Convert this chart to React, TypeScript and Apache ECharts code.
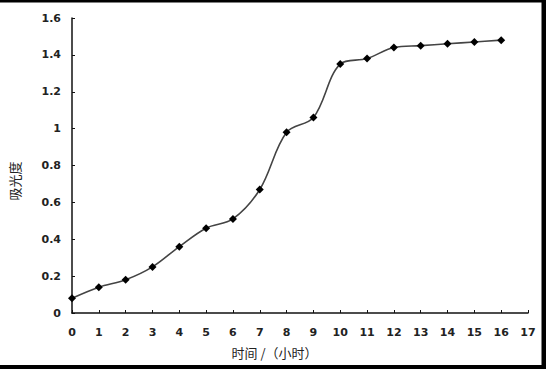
import React, { useEffect, useRef } from "react";
import * as echarts from "echarts";

const hours = [0, 1, 2, 3, 4, 5, 6, 7, 8, 9, 10, 11, 12, 13, 14, 15, 16];
const absorbance = [0.08, 0.14, 0.18, 0.25, 0.36, 0.46, 0.51, 0.67, 0.98, 1.06, 1.35, 1.38, 1.44, 1.45, 1.46, 1.47, 1.48];
const xAxisName = "时间 /（小时）";
const yAxisName = "吸光度";

export default function App() {
  const ref = useRef<HTMLDivElement>(null);
  useEffect(() => {
    document.body.style.margin = "0";
    const chart = echarts.init(ref.current!, null, { renderer: "svg" });
    const labelStyle = {
      color: "#222",
      fontSize: 11,
      fontWeight: "bold" as const,
      fontFamily: "DejaVu Sans, sans-serif",
    };
    chart.setOption({
      animation: false,
      backgroundColor: "#fff",
      grid: { left: 68, top: 18, width: 460, height: 295, containLabel: false },
      xAxis: {
        type: "value",
        min: 0,
        max: 17,
        interval: 1,
        name: xAxisName,
        nameLocation: "middle",
        nameGap: 33,
        nameTextStyle: {
          color: "#222",
          fontSize: 13,
          fontFamily: "Noto Sans CJK SC, sans-serif",
          padding: [0, 51, 0, 0],
        },
        axisLine: { show: true, lineStyle: { color: "#111", width: 1.5 } },
        axisTick: { show: true, inside: true, length: 3, lineStyle: { color: "#111" } },
        axisLabel: { ...labelStyle, margin: 14 },
        splitLine: { show: false },
      },
      yAxis: {
        type: "value",
        min: 0,
        max: 1.6,
        interval: 0.2,
        name: yAxisName,
        nameLocation: "middle",
        nameGap: 51,
        nameRotate: 90,
        nameTextStyle: {
          color: "#222",
          fontSize: 13,
          fontFamily: "Noto Sans CJK SC, sans-serif",
          padding: [0, 31, 0, 0],
        },
        axisLine: { show: true, lineStyle: { color: "#111", width: 1.5 } },
        axisTick: { show: true, inside: true, length: 3, lineStyle: { color: "#111" } },
        axisLabel: { ...labelStyle, margin: 11 },
        splitLine: { show: false },
      },
      series: [
        {
          type: "line",
          data: hours.map((h, i) => [h, absorbance[i]]),
          smooth: 0.35,
          symbol: "diamond",
          symbolSize: 8,
          itemStyle: { color: "#000" },
          lineStyle: { color: "#444", width: 1.6 },
        },
      ],
      graphic: [
        { type: "rect", left: 0, top: 0, shape: { width: 546, height: 2.5 }, style: { fill: "#000" } },
        { type: "rect", left: 541.5, top: 0, shape: { width: 4.5, height: 369 }, style: { fill: "#000" } },
        { type: "rect", left: 0, top: 365, shape: { width: 546, height: 4 }, style: { fill: "#000" } },
      ],
    });
    return () => chart.dispose();
  }, []);
  return <div ref={ref} style={{ position: "absolute", left: 0, top: 0, width: 546, height: 369 }} />;
}
